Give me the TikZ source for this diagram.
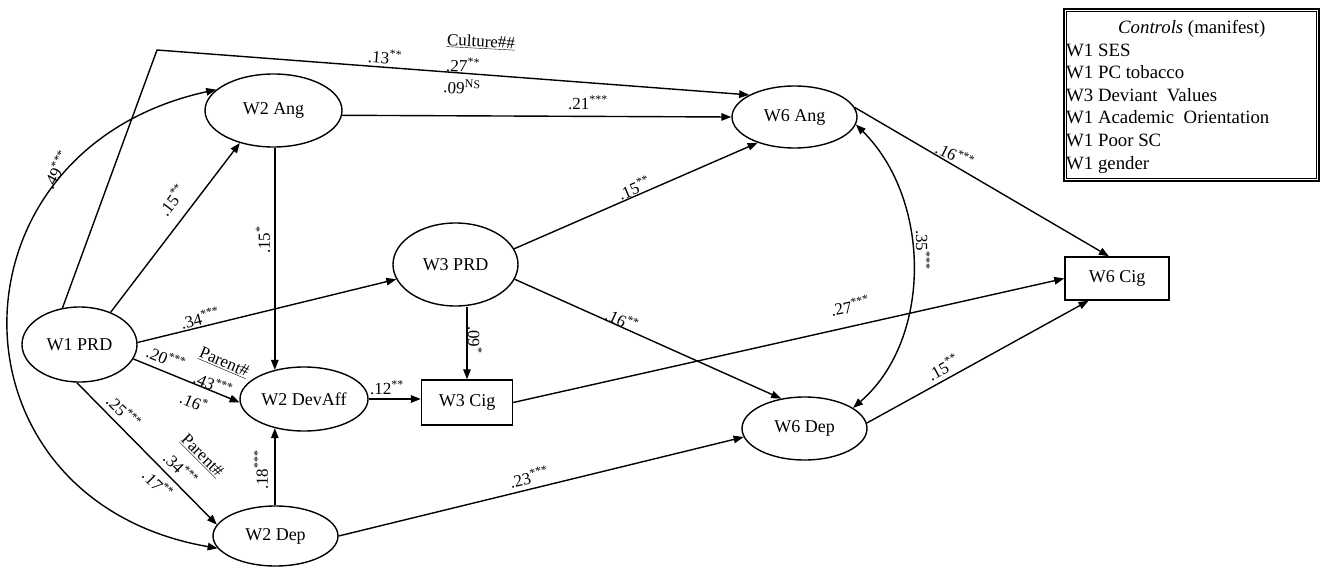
\documentclass[tikz,border=0pt]{standalone}
\usepackage{fontspec}
\setmainfont{Liberation Serif}
\usetikzlibrary{arrows.meta,shapes.geometric}
\tikzset{
  lat/.style={ellipse, draw, line width=1.4pt, inner sep=0pt, font=\fontsize{18}{21}\selectfont},
  obs/.style={rectangle, draw, line width=1.4pt, inner sep=0pt, font=\fontsize{18}{21}\selectfont},
  pth/.style={line width=1.4pt, -{Triangle[length=10pt,width=7.5pt]}},
  bip/.style={line width=1.4pt, {Triangle[length=10pt,width=7.5pt]}-{Triangle[length=10pt,width=7.5pt]}},
  lbl/.style={inner sep=0pt, font=\fontsize{17}{20}\selectfont},
  ctlbox/.style={draw, line width=1.6pt, minimum width=255pt, minimum height=172pt, inner sep=0pt},
  ctlinner/.style={line width=0.9pt}
}
\newcommand{\sig}[1]{\textsuperscript{#1}}
\begin{document}
\begin{tikzpicture}[x=1pt,y=-1pt]
\useasboundingbox (0,0) rectangle (1321,567);
% nodes
\node[lat, minimum width=115pt, minimum height=75pt] (w1) at (79.5,344.5) {W1 PRD};
\node[lat, minimum width=137pt, minimum height=73pt] (w2a) at (273.5,110.5) {W2 Ang};
\node[lat, minimum width=125pt, minimum height=62pt] (w6a) at (794.5,117) {W6 Ang};
\node[lat, minimum width=125pt, minimum height=83pt] (w3p) at (455.5,264.5) {W3 PRD};
\node[lat, minimum width=128pt, minimum height=64pt] (w2da) at (304,399) {W2 DevAff};
\node[obs, minimum width=91pt, minimum height=45pt] (w3c) at (467,402.5) {W3 Cig};
\node[lat, minimum width=125pt, minimum height=60pt] (w2d) at (275.5,536) {W2 Dep};
\node[lat, minimum width=125pt, minimum height=63pt] (w6d) at (804.5,428.5) {W6 Dep};
\node[obs, minimum width=104pt, minimum height=43pt] (w6c) at (1117,278.5) {W6 Cig};
\coordinate (c1) at (157,50);
% legend
\node[ctlbox] (ctl) at (1191.5,95) {};
\draw[ctlinner] ([shift={(3.5,3.5)}]ctl.north west) rectangle ([shift={(-3.5,-3.5)}]ctl.south east);
\node[anchor=north west, align=left, inner sep=0pt, font=\fontsize{18.8}{22.6}\selectfont] (ctlt) at (1066,20)
 {\makebox[251pt][c]{\textit{Controls} (manifest)}\\ W1 SES\\ W1 PC tobacco\\ W3 Deviant\ \ Values\\ W1 Academic\ \ Orientation\\ W1 Poor SC\\ W1 gender};
% connectors
\draw[pth] (w1.115) -- (c1) -- (w6a.154);
\draw[bip] (w2a.160) .. controls (-60,150) and (-60,500) .. (w2d.192);
\draw[pth] (w1.46) -- (w2a.224);
\draw[pth] (w1.2) -- (w3p.194);
\draw[pth] (w1.345) -- (w2da.183);
\draw[pth] (w1.266) -- (w2d.169);
\draw[pth] (w2da.135 |- w2a.south) -- (w2da.135);
\draw[pth] (w2da.225 |- w2d.north) -- (w2da.225);
\draw[pth] (w2da.east) -- (w2da.east -| w3c.west);
\draw[pth] (w3c.north |- w3p.south) -- (w3c.north);
\draw[pth] (w2a.356) -- (w6a.west);
\draw[pth] (w3p.15) -- (w6a.215);
\draw[pth] (w3p.346) -- (w6d.128);
\draw[pth] (w3c.east) -- (w6c.west);
\draw[pth] (w2d.east) -- (w6d.188);
\draw[pth] (w6a.9) -- (w6c.110);
\draw[pth] (w6d.5) -- (w6c.218);
\draw[bip] (w6a.353) .. controls (932,200) and (932,340) .. (w6d.23);
% labels
\node[lbl, rotate=-4.4] (l13) at (385,57) {.13\sig{**}};
\node[lbl, rotate=-3] (lcul) at (481,42) {\underline{Culture\#\#}};
\node[lbl, rotate=-3] (l27) at (463,65) {.27\sig{**}};
\node[lbl, rotate=-3] (l09ns) at (462,87) {.09\sig{NS}};
\node[lbl] (l21) at (588,103) {.21\sig{***}};
\node[lbl, rotate=62] (l49) at (56,170) {.49\sig{***}};
\node[lbl, rotate=52] (l15a) at (172,200) {.15\sig{**}};
\node[lbl, rotate=90] (l15b) at (263,240) {.15\sig{*}};
\node[lbl, rotate=14] (l34a) at (200,318) {.34\sig{***}};
\node[lbl, rotate=-23] (l20) at (166,358) {.20\sig{***}};
\node[lbl, rotate=-23] (lpar1) at (224,363) {\underline{Parent\#}};
\node[lbl, rotate=-23] (l43) at (213,384) {.43\sig{***}};
\node[lbl, rotate=-23] (l16a) at (194,402) {.16\sig{*}};
\node[lbl, rotate=-45] (l25) at (124,412) {.25\sig{***}};
\node[lbl, rotate=-45] (lpar2) at (202,456) {\underline{Parent\#}};
\node[lbl, rotate=-45] (l34b) at (181,469) {.34\sig{***}};
\node[lbl, rotate=-45] (l17) at (158,484) {.17\sig{**}};
\node[lbl, rotate=90] (l18) at (261,470) {.18\sig{***}};
\node[lbl] (l12) at (387,388) {.12\sig{**}};
\node[lbl, rotate=-90] (l09) at (475,340) {.09\sig{*}};
\node[lbl, rotate=23] (l15c) at (634,188) {.15\sig{**}};
\node[lbl, rotate=-25] (l16b) at (622,320) {.16\sig{**}};
\node[lbl, rotate=12] (l27b) at (850,306) {.27\sig{***}};
\node[lbl, rotate=-27] (l16c) at (955,155) {.16\sig{***}};
\node[lbl, rotate=-90] (l35) at (923,250) {.35\sig{***}};
\node[lbl, rotate=29] (l15d) at (943,367) {.15\sig{**}};
\node[lbl, rotate=13] (l23) at (529,477) {.23\sig{***}};
\end{tikzpicture}
\end{document}
